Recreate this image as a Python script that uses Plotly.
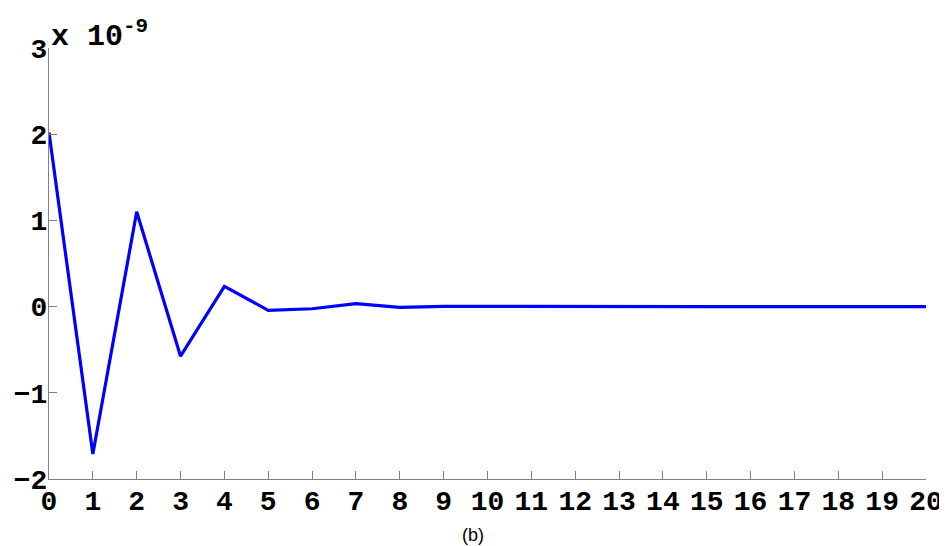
import plotly.graph_objects as go

# sample index
n = list(range(21))
# values in units of 1e-9
values = [2.02, -1.71, 1.10, -0.575, 0.235, -0.043, -0.025, 0.035, -0.008, 0.003,
          0.002, 0.0, 0.0, 0.0, 0.0, 0.0, 0.0, 0.0, 0.0, 0.0, 0.0]
y_ticks = [-2, -1, 0, 1, 2, 3]
x_ticks = list(range(0, 21))
exponent_label = "x\u00a010<sup>-9</sup>"
caption = "(b)"

mono = "Liberation Mono"

fig = go.Figure()
fig.add_trace(go.Scatter(x=n, y=values, mode="lines",
                         line=dict(color="#0000ff", width=3.2),
                         showlegend=False))

axis_common = dict(showline=True, linecolor="#808080", linewidth=1.3,
                   ticks="inside", ticklen=8, tickcolor="#808080", tickwidth=1,
                   showgrid=False, zeroline=False, mirror=False,
                   tickfont=dict(family=mono, size=28, color="black", weight="bold"))

fig.update_xaxes(range=[0, 20], tickmode="array", tickvals=x_ticks,
                 ticktext=[str(v) for v in x_ticks], ticklabelstandoff=-4, **axis_common)
fig.update_yaxes(range=[-2, 3], tickmode="array", tickvals=y_ticks,
                 ticktext=[("\u2212" + str(-v)) if v < 0 else str(v) for v in y_ticks],
                 ticklabelstandoff=-5, **axis_common)

fig.add_annotation(text=exponent_label, xref="paper", yref="paper", x=0, y=1,
                   xanchor="left", yanchor="bottom", showarrow=False, yshift=-8,
                   font=dict(family=mono, size=30, color="black", weight="bold"))
fig.add_annotation(text=caption, xref="paper", yref="paper", x=0.484, y=0,
                   xanchor="center", yanchor="middle", showarrow=False, yshift=-56,
                   font=dict(family="Liberation Sans", size=18, color="black"))

fig.update_layout(width=947, height=546,
                  margin=dict(l=41, r=29, t=40, b=75, autoexpand=False),
                  paper_bgcolor="white", plot_bgcolor="white")

fig.write_html("out.html")
